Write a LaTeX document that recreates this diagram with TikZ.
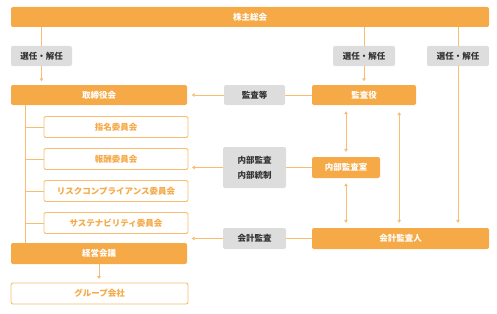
\documentclass[tikz,border=0pt]{standalone}
\usepackage{fontspec}
\setmainfont{Noto Sans CJK JP}
\usetikzlibrary{arrows.meta}

\definecolor{kanorange}{HTML}{F5A947}
\definecolor{kanline}{HTML}{F8BD70}
\definecolor{kangray}{HTML}{DDDDDD}
\definecolor{kantext}{HTML}{333333}

\tikzset{
  base/.style={rounded corners=2pt, inner sep=0pt, align=center,
    font=\fontsize{8.5}{15}\selectfont\bfseries},
  mainbox/.style={base, fill=kanorange, text=white, minimum height=20pt},
  subbox/.style={base, draw=kanline, line width=0.9pt, fill=white, text=kanorange, minimum height=20pt},
  graybox/.style={base, fill=kangray, text=kantext, minimum height=20pt},
  link/.style={draw=kanline, line width=0.9pt},
  arr/.style={link, -{Triangle[width=3.6pt,length=3pt]}, shorten >=3.5pt},
  dblarr/.style={link, {Triangle[width=3.6pt,length=3pt]}-{Triangle[width=3.6pt,length=3pt]},
    shorten <=5pt, shorten >=6pt},
}

\begin{document}
\begin{tikzpicture}[x=1pt, y=-1pt]
  \useasboundingbox (0,0) rectangle (497,313);

  % top row
  \node[mainbox, minimum width=478pt] (kabu) at (250,17) {株主総会};
  \node[graybox, minimum width=61pt] (sel1) at (41.5,56) {選任・解任};
  \node[graybox, minimum width=62pt] (sel2) at (364,56) {選任・解任};
  \node[graybox, minimum width=62pt] (sel3) at (458,56) {選任・解任};

  % board side
  \node[mainbox, minimum width=176pt] (tori) at (99,95) {取締役会};
  \foreach \name/\label/\y in {shimei/指名委員会/127, houshu/報酬委員会/159,
      risk/リスクコンプライアンス委員会/191, susta/サステナビリティ委員会/223} {
    \node[subbox, minimum width=144pt, minimum height=21pt] (\name) at (116,\y) {\label};
  }
  \node[mainbox, minimum width=176pt, minimum height=21pt] (keiei) at (99,253.5) {経営会議};
  \node[subbox, minimum width=177pt, minimum height=21pt] (group) at (99.5,293.5) {グループ会社};

  % audit side
  \node[graybox, minimum width=61pt] (kansato) at (254.5,95) {監査等};
  \node[mainbox, minimum width=104pt] (kansayaku) at (364,95) {監査役};
  \node[graybox, minimum width=63pt, minimum height=41pt] (naibu) at (254.5,167.5) {内部監査\\内部統制};
  \node[mainbox, minimum width=68pt, minimum height=21pt] (naibushitsu) at (346,167.5) {内部監査室};
  \node[graybox, minimum width=63pt, minimum height=21pt] (kaikei) at (254.5,238.5) {会計監査};
  \node[mainbox, minimum width=177pt, minimum height=21pt] (kaikeinin) at (400.5,238.5) {会計監査人};

  % connectors
  \draw[link] (sel1 |- kabu.south) -- (sel1.north);
  \draw[arr] (sel1.south) -- (sel1 |- tori.north);
  \draw[link] (sel2 |- kabu.south) -- (sel2.north);
  \draw[arr] (sel2.south) -- (kansayaku.north);
  \draw[link] (sel3 |- kabu.south) -- (sel3.north);
  \draw[arr, shorten >=5pt] (sel3.south) -- (sel3 |- kaikeinin.north);

  \draw[link] (kansayaku.west) -- (kansato.east);
  \draw[arr, shorten >=4.5pt] (kansato.west) -- (tori.east);
  \draw[link] (naibushitsu.west) -- (naibu.east);
  \draw[arr, shorten >=3.5pt] (naibu.west) -- (houshu.east |- naibu.west);
  \draw[link] (kaikeinin.west) -- (kaikei.east);
  \draw[arr, shorten >=4.5pt] (kaikei.west) -- (tori.east |- kaikei.west);

  \draw[link] ([xshift=15pt]tori.south west) -- ([xshift=15pt]keiei.north west);
  \foreach \name in {shimei, houshu, risk, susta} {
    \draw[link] ([xshift=15pt]tori.south west |- \name.west) -- (\name.west);
  }
  \draw[arr] (keiei.south) -- (keiei.south |- group.north);

  \draw[dblarr] (naibushitsu.north) -- (naibushitsu.north |- kansayaku.south);
  \draw[dblarr, shorten >=5pt] (naibushitsu.south) -- (naibushitsu.south |- kaikeinin.north);
  \draw[dblarr, shorten <=7pt, shorten >=5pt] ([xshift=-17pt]kansayaku.south east)
    -- ([xshift=-17pt]kansayaku.south east |- kaikeinin.north);
\end{tikzpicture}
\end{document}
